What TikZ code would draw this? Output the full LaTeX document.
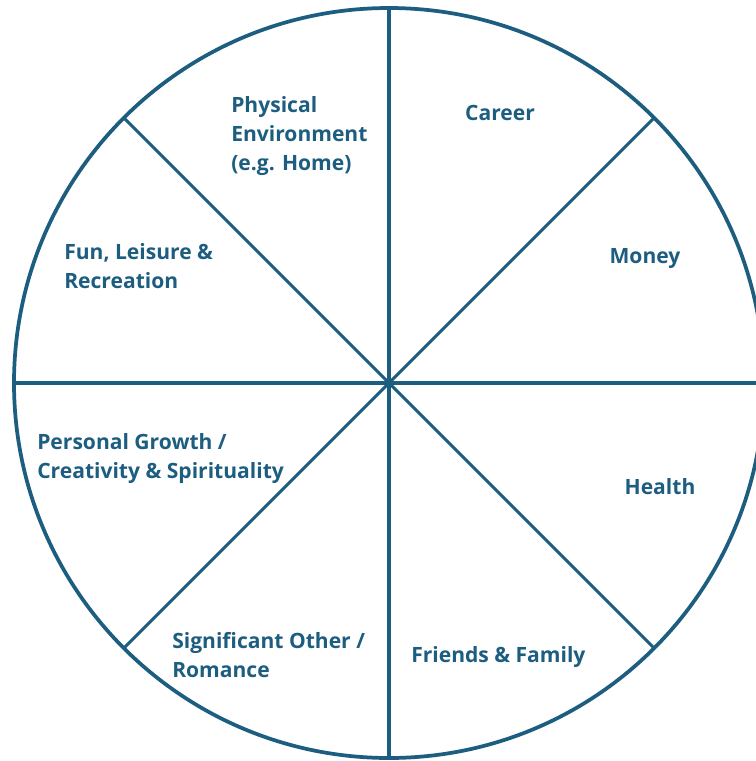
\documentclass[tikz,border=0pt]{standalone}
\usepackage{fontspec}
\setmainfont{Open Sans}
\definecolor{wheelblue}{HTML}{1D5E80}
\tikzset{
  area/.style={text=wheelblue, font=\bfseries\fontsize{15.8}{22}\selectfont, inner sep=0pt},
  spoke/.style={draw=wheelblue, line width=2.3pt}
}
\begin{document}
\begin{tikzpicture}[x=0.75pt, y=-0.75pt]
\clip (0, 0) rectangle (756, 761);
\fill[white] (0, 0) rectangle (756, 761);

\draw[wheelblue, line width=2.8pt] (389, 383) circle (375);

\draw[spoke] (389, 8) -- (389, 758);
\draw[spoke] (14, 383) -- (770, 383);
\draw[spoke] (124, 118) -- (654, 648);
\draw[spoke] (654, 118) -- (124, 648);

\node[area, anchor=north west, align=left] (env) at (231, 96) {Physical\\Environment\\(e.g. Home)};
\node[area] (career) at (500, 113) {Career};
\node[area] (money) at (645, 259) {Money};
\node[area, anchor=north west, align=left] (fun) at (64, 243) {Fun, Leisure \&\\Recreation};
\node[area, anchor=north west, align=left] (growth) at (37, 433) {Personal Growth /\\Creativity \& Spirituality};
\node[area] (health) at (660, 487) {Health};
\node[area, anchor=north west, align=left] (romance) at (172, 632) {Significant Other /\\Romance};
\node[area, anchor=west] (family) at (411, 657) {Friends \& Family};

\end{tikzpicture}
\end{document}
